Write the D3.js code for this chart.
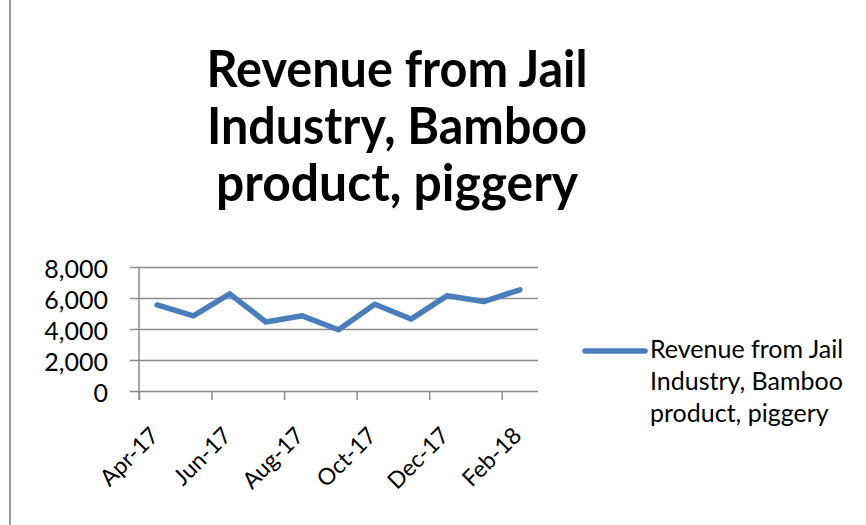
<!DOCTYPE html>
<html>
<head>
<meta charset="utf-8">
<script src="https://cdn.jsdelivr.net/npm/d3@7"></script>
<style>
  body { margin: 0; background: #fff; }
</style>
</head>
<body>
<div id="chart"></div>
<script>
// chart data
const months = ["Apr-17", "May-17", "Jun-17", "Jul-17", "Aug-17", "Sep-17",
                "Oct-17", "Nov-17", "Dec-17", "Jan-18", "Feb-18"];
const revenue = [5550, 4850, 6270, 4450, 4850, 3950, 5600, 4640, 6150, 5770, 6530];
const yTicks = [0, 2000, 4000, 6000, 8000];
const titleLines = ["Revenue from Jail", "Industry, Bamboo", "product, piggery"];
const seriesName = ["Revenue from Jail", "Industry, Bamboo", "product, piggery"];

const W = 866, H = 525;
const plot = {l: 139, r: 538, t: 267, b: 391};
const lineColor = "#4a7ebb";
const gridColor = "#8c8c8c";
const font = "Lato, 'Open Sans', sans-serif";

let svg = d3.select("#chart").append("svg")
    .attr("width", W)
    .attr("height", H);

svg.append("rect")
    .attr("width", W)
    .attr("height", H)
    .attr("fill", "#fff");

// left border of the chart frame
svg.append("line")
    .attr("x1", 10).attr("x2", 10)
    .attr("y1", 0).attr("y2", H)
    .attr("stroke", "#9a9a9a")
    .attr("stroke-width", 2);

// title (squeezed a little to match the narrow original face)
const titleWidths = [381, 380, 362];
svg.append("g").selectAll("text")
    .data(titleLines)
    .join("text")
    .attr("x", 397)
    .attr("y", (d, i) => 87 + i * 57)
    .attr("text-anchor", "middle")
    .attr("font-family", font)
    .attr("font-weight", 700)
    .attr("font-size", 51)
    .attr("textLength", (d, i) => titleWidths[i])
    .attr("lengthAdjust", "spacingAndGlyphs")
    .attr("fill", "#000")
    .text(d => d);

// scales
let x = d3.scaleBand().domain(months).range([plot.l, plot.r]).padding(0);
let y = d3.scaleLinear().domain([0, 8000]).range([plot.b, plot.t]);

// y axis with gridlines
let axisY = d3.axisLeft(y)
    .tickValues(yTicks)
    .tickSize(-(plot.r - plot.l + 9))
    .tickPadding(22)
    .tickFormat(d3.format(","));

let gy = svg.append("g")
    .attr("transform", `translate(${plot.l - 9},0)`)
    .call(axisY);
gy.select(".domain").remove();
gy.selectAll(".tick line").attr("stroke", gridColor).attr("stroke-width", 1.5);
gy.selectAll(".tick text")
    .attr("font-family", font)
    .attr("font-size", 25)
    .attr("dy", "0.4em")
    .attr("fill", "#000");

// vertical axis line
svg.append("line")
    .attr("x1", plot.l).attr("x2", plot.l)
    .attr("y1", y(8000)).attr("y2", plot.b + 9)
    .attr("stroke", gridColor)
    .attr("stroke-width", 1.5);

// x axis: ticks at every second category boundary
let tickMonths = months.filter((d, i) => i % 2 === 0);
let edge = d3.scalePoint().domain(tickMonths)
    .range([plot.l, plot.l + x.step() * 2 * (tickMonths.length - 1)]);
let axisX = d3.axisBottom(edge)
    .tickSize(9)
    .tickFormat("");
let gx = svg.append("g")
    .attr("transform", `translate(0,${plot.b})`)
    .call(axisX);
gx.select(".domain").remove();
gx.selectAll(".tick line").attr("stroke", gridColor).attr("stroke-width", 1.5);

// rotated month labels at category centres
svg.append("g").selectAll("text")
    .data(tickMonths)
    .join("text")
    .attr("transform", d => `translate(${x(d) + x.bandwidth() / 2 + 3},${plot.b + 46}) rotate(-45)`)
    .attr("text-anchor", "end")
    .attr("font-family", font)
    .attr("font-size", 23)
    .attr("fill", "#000")
    .text(d => d);

// series line
let line = d3.line()
    .x((d, i) => x(months[i]) + x.bandwidth() / 2)
    .y(d => y(d));

svg.append("path")
    .datum(revenue)
    .attr("fill", "none")
    .attr("stroke", lineColor)
    .attr("stroke-width", 5.5)
    .attr("stroke-linejoin", "round")
    .attr("stroke-linecap", "round")
    .attr("d", line);

// legend
let legend = svg.append("g").attr("transform", "translate(585,351)");
legend.append("line")
    .attr("x1", 0).attr("x2", 60)
    .attr("y1", 0).attr("y2", 0)
    .attr("stroke", lineColor)
    .attr("stroke-width", 5.5)
    .attr("stroke-linecap", "round");
legend.selectAll("text")
    .data(seriesName)
    .join("text")
    .attr("x", 65)
    .attr("y", (d, i) => 7 + i * 32)
    .attr("font-family", font)
    .attr("font-size", 25)
    .attr("fill", "#000")
    .text(d => d);
</script>
</body>
</html>
